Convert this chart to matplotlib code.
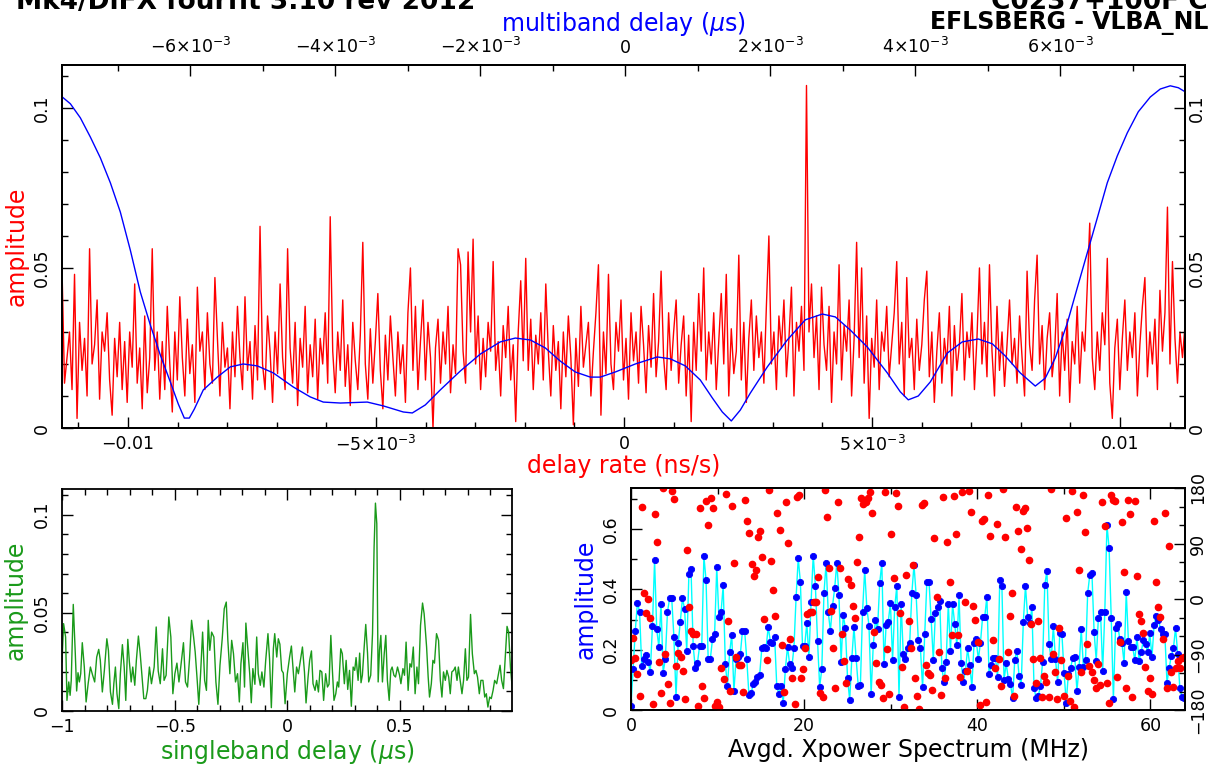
import numpy as np
import matplotlib
matplotlib.use("Agg")
import matplotlib.pyplot as plt
from matplotlib.ticker import MultipleLocator, FixedLocator

# ---- delay rate spectrum (red, top panel), amplitude x 1e-3, evenly sampled ----
rate_lim = (-0.01133, 0.01131)
rate_amp = [
    50, 14, 22, 30, 12, 48, 3, 33, 18, 28, 10, 56, 20, 26, 40, 9, 30, 24, 36, 15,
    4, 28, 16, 33, 12, 27, 8, 30, 19, 45, 14, 25, 6, 35, 11, 22, 56, 18, 30, 9,
    27, 12, 38, 20, 5, 30, 15, 41, 22, 10, 34, 17, 26, 8, 44, 24, 30, 12, 36, 20,
    14, 47, 28, 10, 33, 19, 25, 6, 30, 16, 38, 22, 12, 41, 18, 27, 9, 32, 15, 63,
    20, 12, 35, 24, 8, 30, 17, 45, 22, 12, 56, 25, 14, 33, 7, 28, 19, 38, 11, 26,
    16, 34, 9, 28, 20, 36, 14, 66, 24, 11, 30, 18, 40, 13, 26, 7, 33, 21, 12, 29,
    58, 20, 9, 31, 14, 27, 42, 18, 6, 29, 15, 35, 22, 10, 30, 17, 26, 8, 36, 50,
    18, 38, 12, 27, 40, 15, 33, 22, 0, 25, 34, 14, 30, 20, 38, 11, 26, 17, 56, 51,
    24, 14, 55, 30, 59, 20, 35, 12, 28, 16, 33, 24, 52, 18, 27, 10, 32, 22, 38, 15,
    26, 2, 30, 46, 21, 53, 18, 34, 12, 29, 20, 36, 15, 45, 24, 10, 32, 18, 27, 6,
    30, 16, 35, 22, 1, 28, 13, 38, 19, 26, 33, 10, 24, 36, 51, 4, 30, 17, 48, 20,
    12, 33, 24, 40, 15, 28, 9, 36, 21, 30, 14, 38, 26, 11, 32, 19, 42, 16, 27, 49,
    22, 12, 36, 18, 30, 40, 14, 26, 35, 10, 29, 2, 33, 18, 42, 24, 50, 15, 30, 20,
    36, 12, 27, 42, 20, 48, 10, 31, 17, 24, 54, 15, 33, 8, 28, 40, 18, 35, 22, 30,
    14, 38, 60, 20, 30, 12, 35, 25, 40, 16, 28, 44, 10, 33, 24, 38, 18, 107, 30, 45,
    22, 35, 12, 44, 26, 18, 38, 8, 30, 20, 51, 15, 32, 24, 40, 10, 28, 58, 22, 50,
    14, 35, 3, 28, 19, 40, 12, 30, 24, 38, 16, 26, 36, 52, 20, 33, 10, 47, 22, 28,
    12, 34, 18, 26, 40, 49, 16, 30, 8, 24, 36, 14, 28, 20, 38, 10, 32, 18, 26, 42,
    15, 30, 22, 36, 12, 28, 50, 20, 33, 16, 51, 24, 10, 38, 18, 30, 13, 26, 40, 20,
    28, 14, 35, 22, 10, 49, 26, 18, 40, 54, 20, 32, 12, 28, 36, 16, 24, 42, 10, 30,
    18, 34, 8, 27, 20, 38, 14, 30, 24, 44, 64, 22, 12, 30, 18, 36, 26, 53, 14, 3,
    25, 34, 12, 28, 40, 18, 30, 22, 36, 10, 26, 38, 47, 16, 30, 20, 34, 12, 43, 24,
    36, 69, 20, 52, 28, 14, 30, 22, 32,
]
rate_ticks = [-0.01, -0.005, 0, 0.005, 0.01]
rate_labels = ["\u22120.01", r"$-5{\times}10^{-3}$", "0", r"$5{\times}10^{-3}$", "0.01"]
amp_ticks = [0, 0.05, 0.1]
amp_labels = ["0", "0.05", "0.1"]

# ---- multiband delay function (blue, top axis), delay and amplitude x 1e-3 ----
mbd_lim = (-0.00777, 0.00772)
mbd_delay = [
    -7.766, -7.655, -7.517, -7.379, -7.241, -7.103, -6.966, -6.828, -6.690, -6.552,
    -6.414, -6.276, -6.166, -6.083, -6.014, -5.945, -5.821, -5.628, -5.448, -5.269,
    -5.076, -4.855, -4.579, -4.345, -4.166, -3.931, -3.559, -3.338, -3.062, -2.938,
    -2.759, -2.552, -2.276, -2.000, -1.724, -1.517, -1.310, -1.103, -0.897, -0.690,
    -0.483, -0.345, -0.138, 0.138, 0.441, 0.621, 0.828, 1.034, 1.200, 1.338,
    1.462, 1.586, 1.724, 1.959, 2.234, 2.483, 2.717, 2.897, 3.103, 3.338,
    3.614, 3.793, 3.903, 4.041, 4.207, 4.441, 4.648, 4.869, 5.062, 5.241,
    5.448, 5.655, 5.793, 5.931, 6.097, 6.234, 6.372, 6.510, 6.648, 6.786,
    6.924, 7.076, 7.241, 7.379, 7.517, 7.628, 7.724,
]
mbd_amp = [
    103.4, 101.3, 96.9, 90.9, 84.4, 76.6, 67.5, 55.6, 42.5, 32.2,
    22.8, 14.4, 7.5, 3.1, 3.1, 5.9, 11.9, 15.9, 19.1, 20.0,
    19.4, 17.2, 12.8, 9.7, 8.1, 7.8, 8.1, 6.9, 5.0, 4.7,
    7.2, 11.9, 17.8, 23.1, 26.9, 28.1, 27.5, 25.0, 20.9, 17.5,
    15.9, 15.9, 17.5, 20.0, 22.2, 21.6, 19.4, 15.0, 9.4, 5.0,
    2.2, 5.6, 10.9, 19.1, 27.5, 33.8, 35.6, 34.7, 30.6, 25.3,
    17.2, 11.3, 8.8, 10.0, 14.4, 23.4, 26.9, 27.8, 26.3, 22.5,
    17.2, 13.1, 15.6, 21.9, 32.8, 43.8, 54.7, 65.6, 76.6, 85.0,
    92.2, 98.8, 103.4, 105.9, 106.9, 106.3, 105.0,
]
mbd_ticks = [-0.006, -0.004, -0.002, 0, 0.002, 0.004, 0.006]
mbd_labels = [r"$-6{\times}10^{-3}$", r"$-4{\times}10^{-3}$", r"$-2{\times}10^{-3}$", "0",
              r"$2{\times}10^{-3}$", r"$4{\times}10^{-3}$", r"$6{\times}10^{-3}$"]

# ---- singleband delay function (green), amplitude x 1e-3 ----
sbd_delay = [
    -1.000, -0.993, -0.984, -0.978, -0.970, -0.964, -0.959, -0.950, -0.941, -0.935,
    -0.929, -0.923, -0.917, -0.910, -0.901, -0.893, -0.884, -0.874, -0.864, -0.855,
    -0.846, -0.837, -0.830, -0.821, -0.812, -0.801, -0.794, -0.785, -0.776, -0.770,
    -0.763, -0.756, -0.748, -0.741, -0.732, -0.724, -0.717, -0.708, -0.701, -0.693,
    -0.686, -0.677, -0.670, -0.661, -0.653, -0.644, -0.637, -0.628, -0.621, -0.612,
    -0.603, -0.591, -0.582, -0.573, -0.564, -0.554, -0.547, -0.538, -0.526, -0.517,
    -0.508, -0.499, -0.490, -0.481, -0.473, -0.461, -0.452, -0.443, -0.434, -0.425,
    -0.416, -0.409, -0.400, -0.393, -0.385, -0.376, -0.367, -0.359, -0.351, -0.344,
    -0.336, -0.326, -0.317, -0.308, -0.299, -0.289, -0.280, -0.271, -0.264, -0.255,
    -0.247, -0.239, -0.230, -0.221, -0.213, -0.206, -0.197, -0.190, -0.184, -0.176,
    -0.167, -0.160, -0.153, -0.144, -0.136, -0.129, -0.120, -0.113, -0.104, -0.096,
    -0.086, -0.079, -0.071, -0.062, -0.056, -0.047, -0.040, -0.033, -0.025, -0.018,
    -0.010, 0.000, 0.010, 0.018, 0.025, 0.033, 0.041, 0.049, 0.059, 0.067,
    0.076, 0.083, 0.092, 0.099, 0.107, 0.114, 0.123, 0.130, 0.138, 0.145,
    0.153, 0.161, 0.170, 0.178, 0.185, 0.193, 0.200, 0.207, 0.215, 0.222,
    0.228, 0.237, 0.244, 0.253, 0.261, 0.268, 0.276, 0.284, 0.292, 0.299,
    0.305, 0.314, 0.321, 0.327, 0.333, 0.341, 0.348, 0.356, 0.361, 0.370,
    0.378, 0.385, 0.391, 0.397, 0.403, 0.409, 0.415, 0.422, 0.430, 0.437,
    0.444, 0.452, 0.459, 0.465, 0.473, 0.480, 0.489, 0.498, 0.504, 0.513,
    0.520, 0.527, 0.536, 0.544, 0.551, 0.559, 0.567, 0.575, 0.582, 0.591,
    0.600, 0.607, 0.618, 0.625, 0.631, 0.639, 0.646, 0.653, 0.662, 0.671,
    0.679, 0.686, 0.693, 0.701, 0.708, 0.716, 0.723, 0.730, 0.738, 0.745,
    0.753, 0.759, 0.767, 0.775, 0.782, 0.790, 0.797, 0.804, 0.813, 0.821,
    0.830, 0.837, 0.844, 0.852, 0.859, 0.868, 0.876, 0.883, 0.890, 0.898,
    0.905, 0.913, 0.920, 0.929, 0.936, 0.944, 0.951, 0.959, 0.966, 0.975,
    0.982, 0.990, 0.999,
]
sbd_amp = [
    25.0, 44.5, 37.7, 5.4, 14.8, 8.0, 15.6, 54.3, 29.2, 10.2,
    19.5, 14.8, 19.0, 34.8, 22.4, 4.6, 13.9, 22.4, 18.2, 14.8,
    27.5, 31.4, 25.8, 9.7, 20.7, 36.8, 30.9, 9.7, 3.4, 13.9,
    22.4, 8.8, 1.2, 19.0, 33.8, 22.4, 5.4, 36.5, 25.0, 14.8,
    22.4, 13.1, 25.8, 38.2, 29.2, 16.1, 6.3, 6.3, 10.5, 22.4,
    13.9, 22.4, 42.8, 20.4, 13.9, 31.7, 15.6, 18.2, 47.9, 37.7,
    8.8, 19.0, 24.4, 14.8, 22.4, 34.8, 14.8, 12.2, 26.7, 46.2,
    37.7, 30.1, 15.6, 3.4, 19.0, 40.2, 15.6, 10.5, 46.2, 30.9,
    40.2, 37.7, 14.8, 3.4, 23.3, 36.8, 52.1, 55.5, 36.0, 19.0,
    36.0, 29.2, 14.8, 19.0, 4.6, 24.1, 34.8, 12.2, 44.8, 32.6,
    19.0, 4.2, 21.6, 13.6, 37.7, 19.0, 13.1, 19.9, 12.2, 25.8,
    39.4, 26.7, 1.7, 31.7, 39.4, 27.5, 36.8, 34.0, 20.7, 19.4,
    3.7, 19.0, 27.5, 33.1, 22.4, 9.7, 22.4, 19.0, 26.7, 32.6,
    19.9, 4.1, 17.3, 25.8, 30.6, 13.9, 10.5, 15.6, 9.7, 20.7,
    19.9, 5.4, 19.0, 12.2, 13.6, 38.5, 20.7, 5.4, 8.8, 14.8,
    12.2, 31.7, 29.2, 13.9, 25.8, 11.0, 20.7, 2.4, 22.4, 20.7,
    27.2, 15.6, 29.5, 14.4, 18.2, 32.6, 44.1, 29.2, 14.8, 18.2,
    39.4, 83.5, 105.9, 95.4, 14.8, 30.9, 38.5, 14.8, 29.2, 38.5,
    15.6, 5.4, 20.7, 22.4, 18.2, 17.3, 22.4, 18.2, 13.9, 21.6,
    18.2, 35.1, 10.5, 24.1, 22.4, 32.6, 8.8, 22.4, 13.9, 43.6,
    55.0, 49.6, 32.6, 17.3, 7.1, 13.9, 25.8, 24.4, 39.4, 36.0,
    15.6, 7.1, 19.9, 15.6, 20.7, 17.3, 8.8, 19.9, 20.7, 22.4,
    15.6, 22.4, 15.6, 8.8, 15.6, 31.7, 15.6, 17.3, 49.2, 29.2,
    19.0, 20.7, 17.3, 8.8, 15.6, 15.6, 7.1, 8.8, 2.0, 7.1,
    6.3, 10.5, 15.6, 13.9, 18.2, 23.3, 15.6, 11.4, 25.0, 43.1,
    40.2, 22.4, 10.5,
]

# ---- averaged cross-power spectrum, 0 - 64 MHz ----
xp_amp = [
    0.013, 0.135, 0.263, 0.356, 0.326, 0.146, 0.168, 0.182, 0.160, 0.125,
    0.278, 0.497, 0.267, 0.209, 0.352, 0.124, 0.169, 0.324, 0.370, 0.370,
    0.243, 0.044, 0.221, 0.293, 0.370, 0.334, 0.197, 0.450, 0.467, 0.212,
    0.138, 0.157, 0.212, 0.212, 0.510, 0.431, 0.169, 0.169, 0.234, 0.252,
    0.473, 0.307, 0.324, 0.413, 0.152, 0.080, 0.191, 0.249, 0.063, 0.169,
    0.175, 0.185, 0.263, 0.263, 0.169, 0.050, 0.055, 0.085, 0.094, 0.110,
    0.116, 0.204, 0.210, 0.204, 0.276, 0.227, 0.221, 0.241, 0.078, 0.054,
    0.078, 0.024, 0.135, 0.210, 0.152, 0.140, 0.207, 0.373, 0.503, 0.425,
    0.212, 0.212, 0.287, 0.176, 0.359, 0.512, 0.412, 0.230,
    0.077, 0.136, 0.387, 0.486, 0.324, 0.263, 0.346, 0.403, 0.488, 0.381,
    0.160, 0.315, 0.271, 0.105, 0.033, 0.171, 0.276, 0.171, 0.080, 0.083,
    0.326, 0.464, 0.339, 0.280, 0.053, 0.215, 0.298, 0.269, 0.420, 0.488,
    0.151, 0.282, 0.293, 0.355, 0.166, 0.340, 0.412, 0.042, 0.351, 0.185,
    0.168, 0.204, 0.223, 0.388, 0.481, 0.381, 0.232, 0.204, 0.075, 0.252,
    0.425, 0.425, 0.301, 0.166, 0.323, 0.340, 0.362, 0.138, 0.094, 0.160,
    0.352, 0.197, 0.352, 0.284, 0.215, 0.381, 0.157, 0.094, 0.129, 0.204,
    0.149, 0.077, 0.221, 0.234, 0.168, 0.223, 0.309, 0.309, 0.376, 0.118,
    0.149, 0.171,
    0.173, 0.108, 0.431, 0.411, 0.099, 0.155, 0.103, 0.086, 0.039, 0.166,
    0.197, 0.113, 0.083, 0.293, 0.411, 0.309, 0.287, 0.340, 0.072, 0.039,
    0.048, 0.080, 0.160, 0.414, 0.461, 0.219, 0.168, 0.278, 0.168, 0.092,
    0.254, 0.251, 0.124, 0.024, 0.119, 0.138, 0.171, 0.175, 0.063, 0.144,
    0.269, 0.144, 0.167, 0.387, 0.448, 0.453, 0.260, 0.164, 0.306, 0.326,
    0.130, 0.326, 0.613, 0.538, 0.304, 0.035, 0.273, 0.284, 0.234, 0.221,
    0.155, 0.392, 0.230, 0.208, 0.208, 0.165, 0.241, 0.164, 0.193, 0.232,
    0.218, 0.191, 0.254, 0.175, 0.282, 0.312, 0.298, 0.269, 0.252, 0.252,
    0.091, 0.138, 0.180, 0.204, 0.273, 0.185, 0.072, 0.044, 0.039,
]
xp_phase = [
    -98.9, -62.7, -96.2, -121.6, -156.7, 148.7, 10.3, -23.2, -0.5, -30.3,
    -170.2, 137.8, 91.9, -102.7, -153.0, 179.5, -89.7, -137.3, -168.1, 175.1,
    161.6, -108.6, -88.1, -94.6, -116.7, -162.7, 79.5, -12.4, -51.9, -56.7,
    -56.7, -174.0, 147.6, -141.1, -160.0, 159.5, 120.0, 163.2, 147.6, -172.9,
    -167.0, -174.6, -111.3, -130.2, 170.8, -35.7, -148.6, 150.8, 58.9, -93.5,
    -107.0, -107.0, -150.3, 160.5, 127.0, 107.6, 56.2, 37.3, 47.6, 101.1,
    110.3, 68.7, -33.0, -99.4, 176.8, 61.6, 15.1, -28.1, 140.0, 111.4,
    -74.6, -150.3, 157.3, 90.8, -64.9, -127.5, -170.2, 165.9, 168.6, -128.6,
    -113.5, -78.9, -24.3, -21.6, -20.5,
    -4.3, -4.3, 36.2, -153.0, -159.4, 176.8, 132.4, 50.8, -18.9, -80.0,
    -144.8, 157.8, 50.8, -57.3, -100.5, -135.7, 31.9, 22.7, -10.8, -30.3,
    60.5, 100.0, 163.2, 154.1, 156.8, 163.2, 174.1, 140.0, -53.0, -103.2,
    -134.0, -139.4, -161.0, 174.1, -81.1, -154.6, 105.4, 33.5, 172.4, 150.8,
    -23.2, -109.7, -175.6, 38.9, -35.7, -80.0, 55.1, -127.5, -157.3, -178.9,
    152.4, 155.1, -107.0, -120.5, -123.2, -147.5, 99.5, 3.8, -85.4, -155.6,
    164.9, -127.5, 91.9, 28.1, -58.4, 167.0, 104.9, -58.4, -127.0, 174.1,
    -5.4, -116.2, 175.1, 141.6, -10.8, -33.5, -69.2, -171.9, 127.0, 129.2,
    -167.5, 168.6, 102.7, -66.5, -112.4, 121.1,
    -97.3, -140.5, 178.4, 100.0, -85.4, -27.6, 9.2, -156.7, 149.7, 110.8,
    80.5, 143.2, 148.1, 115.7, 63.3, -40.0, -97.8, -136.7, -35.1, -96.2,
    -158.4, -124.8, -134.0, -158.4, 178.4, -89.7, -117.8, -162.7, -46.5, -98.9,
    -156.7, 131.4, -124.3, -165.4, 175.7, -175.6, 140.5, 46.5, -117.8, 168.6,
    108.1, -73.5, -108.6, -117.8, -131.3, -144.8, -105.4, -140.0, 157.8, 118.4,
    -135.7, -169.2, 168.6, 160.5, 159.5, -125.9, -69.2, 125.4, 43.3, -143.8,
    160.0, 137.3, -158.9, 158.9, 37.8, -24.9, -35.7, -54.6, -109.7, -148.6,
    -128.6, -154.6, 126.5, 27.0, -13.5, -28.6, -65.4, 140.0, -143.8, 86.5,
    -117.8, -143.2, -111.9, -100.0, -112.4, -95.1, -94.6,
]
xp_last = 63.9  # MHz of last channel

W, H = 1208, 773
TICK_FS = 12.5
LABEL_FS = 17
GREEN = "#1a9a1a"


def frame(ax):
    for s in ax.spines.values():
        s.set_linewidth(1.3)
    ax.tick_params(which="both", direction="in", labelsize=TICK_FS, width=1)
    ax.tick_params(which="major", length=8)
    ax.tick_params(which="minor", length=4)


def upright(ax):
    # y tick labels written along the axis, like the original
    for lab in ax.get_yticklabels(which="major"):
        lab.set_va("center")


num = plt.FuncFormatter(lambda v, p: ("%g" % round(v, 3)).replace("-", "\u2212"))

fig = plt.figure(figsize=(W / 100, H / 100), dpi=100)

# ---------------- top panel ----------------
ax1 = fig.add_axes([62 / W, 1 - 428 / H, 1123 / W, 363 / H])
rate_x = np.linspace(rate_lim[0], rate_lim[1], len(rate_amp))
ax1.plot(rate_x, np.array(rate_amp) * 1e-3, color="red", lw=1)
ax1.set_xlim(*rate_lim)
ax1.set_ylim(0, 0.1134)
frame(ax1)
ax1.xaxis.set_major_locator(FixedLocator(rate_ticks))
ax1.set_xticklabels(rate_labels)
ax1.xaxis.set_minor_locator(MultipleLocator(0.001))
ax1.yaxis.set_major_locator(FixedLocator(amp_ticks))
ax1.set_yticklabels(amp_labels)
ax1.yaxis.set_minor_locator(MultipleLocator(0.01))
ax1.tick_params(axis="x", which="both", top=False, pad=5)
ax1.tick_params(axis="y", which="both", labelrotation=90, pad=8)
upright(ax1)
ax1.set_xlabel("delay rate (ns/s)", color="red", fontsize=LABEL_FS)
ax1.xaxis.set_label_coords(0.5, -0.072)
ax1.set_ylabel("amplitude", color="red", fontsize=LABEL_FS)
ax1.yaxis.set_label_coords(-0.030, 0.5)

# right-hand amplitude scale of the top panel
ax1r = ax1.twinx()
ax1r.set_ylim(ax1.get_ylim())
frame(ax1r)
ax1r.yaxis.set_major_locator(FixedLocator(amp_ticks))
ax1r.set_yticklabels(amp_labels)
ax1r.yaxis.set_minor_locator(MultipleLocator(0.01))
ax1r.tick_params(axis="y", which="both", labelrotation=90, pad=2)
upright(ax1r)

ax1t = ax1.twiny()
ax1t.plot(np.array(mbd_delay) * 1e-3, np.array(mbd_amp) * 1e-3, color="blue", lw=1)
ax1t.set_xlim(*mbd_lim)
frame(ax1t)
ax1t.xaxis.set_major_locator(FixedLocator(mbd_ticks))
ax1t.set_xticklabels(mbd_labels)
ax1t.xaxis.set_minor_locator(MultipleLocator(0.001))
ax1t.tick_params(axis="x", which="both", top=True, bottom=False,
                 labeltop=True, labelbottom=False, pad=6)
ax1t.set_xlabel(r"multiband delay ($\mu$s)", color="blue", fontsize=LABEL_FS)
ax1t.xaxis.set_label_coords(0.5, 1.094)

# ---------------- bottom left: singleband delay ----------------
ax2 = fig.add_axes([62 / W, 1 - 711 / H, 450 / W, 222 / H])
ax2.plot(sbd_delay, np.array(sbd_amp) * 1e-3, color=GREEN, lw=1)
ax2.set_xlim(-1, 0.997)
ax2.set_ylim(0, 0.1131)
frame(ax2)
ax2.xaxis.set_major_locator(MultipleLocator(0.5))
ax2.xaxis.set_minor_locator(MultipleLocator(0.1))
ax2.yaxis.set_major_locator(MultipleLocator(0.05))
ax2.yaxis.set_minor_locator(MultipleLocator(0.01))
ax2.xaxis.set_major_formatter(num)
ax2.yaxis.set_major_formatter(num)
ax2.tick_params(axis="both", which="both", top=True, right=True)
ax2.tick_params(axis="y", labelrotation=90, pad=8)
ax2.tick_params(axis="x", pad=5)
upright(ax2)
ax2.set_xlabel(r"singleband delay ($\mu$s)", color=GREEN, fontsize=LABEL_FS)
ax2.xaxis.set_label_coords(0.5, -0.122)
ax2.set_ylabel("amplitude", color=GREEN, fontsize=LABEL_FS)
ax2.yaxis.set_label_coords(-0.076, 0.5)

# ---------------- bottom right: cross-power spectrum ----------------
ax3 = fig.add_axes([631 / W, 1 - 710 / H, 554 / W, 222 / H])
f_amp = np.linspace(0, xp_last, len(xp_amp))
ax3.plot(f_amp, xp_amp, color="cyan", lw=1, marker="o", ms=4.5,
         mfc="blue", mec="blue", mew=0.6)
ax3.set_xlim(0, 64)
ax3.set_ylim(0, 0.736)
frame(ax3)
ax3.xaxis.set_major_locator(MultipleLocator(20))
ax3.xaxis.set_minor_locator(MultipleLocator(10))
ax3.yaxis.set_major_locator(MultipleLocator(0.2))
ax3.yaxis.set_minor_locator(MultipleLocator(0.1))
ax3.yaxis.set_major_formatter(num)
ax3.tick_params(axis="x", which="both", top=True, pad=5)
ax3.tick_params(axis="y", labelrotation=90, pad=8)
upright(ax3)
ax3.set_xlabel("Avgd. Xpower Spectrum (MHz)", color="black", fontsize=LABEL_FS)
ax3.xaxis.set_label_coords(0.5, -0.126)
ax3.set_ylabel("amplitude", color="blue", fontsize=LABEL_FS)
ax3.yaxis.set_label_coords(-0.061, 0.5)

ax3p = ax3.twinx()
f_ph = np.linspace(0, xp_last, len(xp_phase))
ax3p.plot(f_ph, xp_phase, ls="none", marker="o", ms=4.5, mfc="red", mec="red")
ax3p.set_ylim(-180, 180)
frame(ax3p)
ax3p.yaxis.set_major_locator(MultipleLocator(90))
ax3p.yaxis.set_minor_locator(MultipleLocator(30))
ax3p.yaxis.set_major_formatter(num)
ax3p.tick_params(axis="y", labelrotation=90, pad=3)
upright(ax3p)

# ---------------- header text (clipped at the top edge) ----------------
fig.text(475 / W, 1 - 9 / H, "Mk4/DiFX fourfit 3.10 rev 2012", ha="right",
         va="baseline", fontsize=19, fontweight="bold")
fig.text(1.0, 1 - 9 / H, "C0237+100F C", ha="right", va="baseline",
         fontsize=19, fontweight="bold")
fig.text(1.0, 1 - 29 / H, "EFLSBERG - VLBA_NL", ha="right", va="baseline",
         fontsize=17, fontweight="bold")

fig.savefig("out.png", dpi=100, facecolor="white")
